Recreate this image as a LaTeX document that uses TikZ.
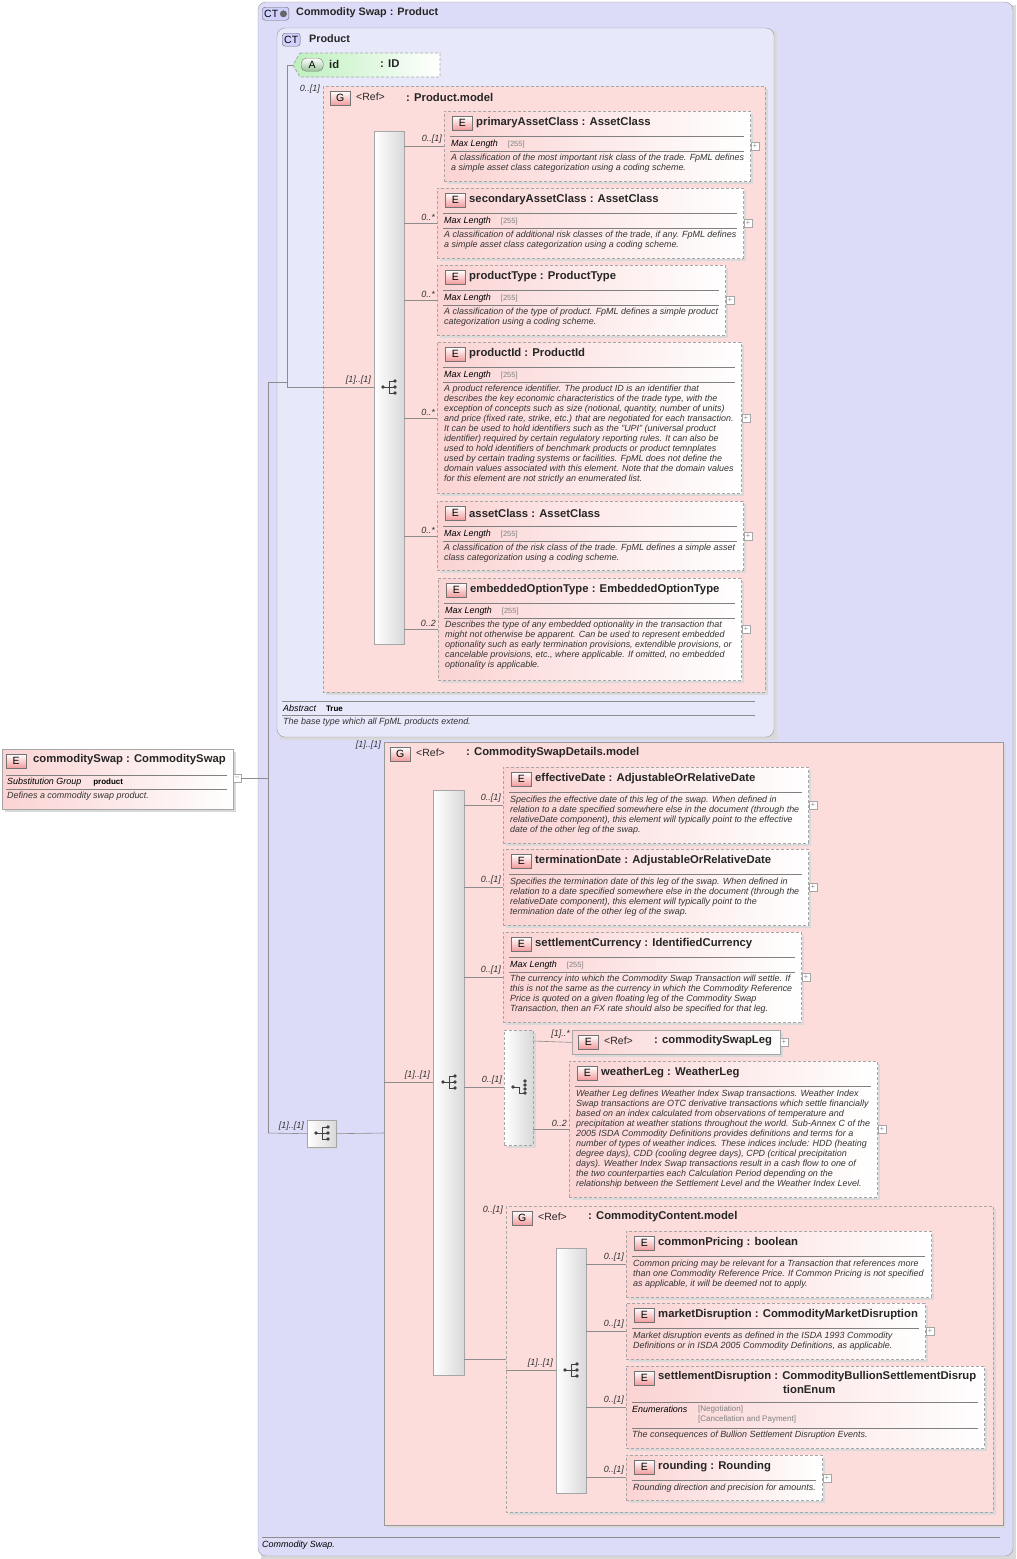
\documentclass[tikz,border=0pt]{standalone}
\usepackage{fontspec}
\setmainfont{Liberation Sans}
\usetikzlibrary{calc}
\definecolor{lav}{HTML}{DCDCF8}
\definecolor{lav2}{HTML}{E8E8FB}
\definecolor{pk}{HTML}{FDDCDC}
\definecolor{elpk}{HTML}{FBD3D3}
\definecolor{bdpk}{HTML}{F29A9A}
\definecolor{grn}{HTML}{BDF0BD}
\tikzset{
 elem/.style={draw=black!35, dash pattern=on 3pt off 2pt, line width=0.8pt, left color=elpk, right color=white, anchor=north west, inner sep=0},
 badge/.style={draw=black!55, solid, line width=0.5pt, top color=white, bottom color=bdpk, minimum width=20pt, minimum height=14pt, inner sep=0, font=\fontsize{10.5}{10}\selectfont, anchor=north west},
 ctbadge/.style={draw=black!60, rounded corners=3pt, fill=lav!80!blue!60, minimum height=13pt, inner sep=2pt, font=\fontsize{10.5}{10}\selectfont, anchor=north west},
 ttl/.style={anchor=west, font=\fontsize{11.3}{12}\selectfont\bfseries, inner sep=0, text=black!85},
 ttls/.style={anchor=west, font=\fontsize{10.8}{12}\selectfont\bfseries, inner sep=0, text=black!85},
 desc/.style={anchor=north west, align=left, font=\fontsize{8.95}{10}\selectfont\itshape, inner sep=0, text=black!80},
 ml/.style={anchor=west, font=\fontsize{8.95}{10}\selectfont\itshape, inner sep=0},
 enm/.style={anchor=west, font=\fontsize{8}{9}\selectfont, inner sep=0, text=black!50},
 card/.style={anchor=south east, font=\fontsize{9}{9}\selectfont\itshape, inner sep=1pt, text=black!80},
 conn/.style={draw=black!45, line width=0.6pt},
 plusb/.style={draw=black!35, fill=white, minimum size=8pt, inner sep=0, font=\fontsize{8}{8}\selectfont, text=black!40},
 seqbar/.style={draw=black!35, left color=white, right color=black!15, anchor=north west, inner sep=0},
 shd/.style={fill=black!15},
}
\newcommand\plusat[2]{\node[plusb] at (#1,#2) {+};}
\newcommand\seqicon[2]{%
 \fill[black!75] (#1-6,#2) circle (1.8pt);
 \draw[black!75, line width=0.8pt] (#1-6,#2) -- (#1,#2) (#1,#2-6) -- (#1,#2+6) (#1,#2-6) -- (#1+5,#2-6) (#1,#2) -- (#1+5,#2) (#1,#2+6) -- (#1+5,#2+6);
 \fill[black!75] (#1+6,#2-6) circle (1.8pt) (#1+6,#2) circle (1.8pt) (#1+6,#2+6) circle (1.8pt);}
\newcommand\choiceicon[2]{%
 \fill[black!75] (#1-6,#2) circle (1.8pt);
 \draw[black!75, line width=0.8pt] (#1-6,#2) -- (#1,#2) (#1,#2) -- (#1,#2+6) (#1,#2+6) -- (#1+5,#2+6);
 \fill[black!75] (#1+6,#2-6) circle (1.8pt) (#1+6,#2-2) circle (1.8pt) (#1+6,#2+2) circle (1.8pt) (#1+6,#2+6) circle (1.8pt);}
% name x y w h title maxlen desc
\newcommand\elm[8]{%
 \fill[shd] (#2+3,#3+3) rectangle ++(#4,#5);
 \node[elem, minimum width=#4pt, minimum height=#5pt] (#1) at (#2,#3) {};
 \node[badge] (#1b) at (#2+8,#3+5) {E};
 \node[ttl] (#1t) at (#2+32,#3+12) {#6};
 \draw[black!50] (#2+6,#3+25) -- ++(#4-12,0);
 \ifnum#7=1
  \node[ml] at (#2+7,#3+33) {Max Length\hspace{10pt}{\upshape\fontsize{7.5}{8}\selectfont\textcolor{black!50}{[255]}}};
  \draw[black!50] (#2+6,#3+40) -- ++(#4-12,0);
  \node[desc] (#1d) at (#2+7,#3+43) {#8};
 \else
  \node[desc] (#1d) at (#2+7,#3+29) {#8};
 \fi}
\begin{document}
\begin{tikzpicture}[x=1pt,y=-1pt]
\useasboundingbox (0,0) rectangle (1017,1559);
% outer CT
\fill[shd] (261,5) rectangle (1016,1559);
\draw[black!40, fill=lav, rounded corners=8pt] (258,2) rectangle (1013,1556);
\node[ctbadge] (ct1) at (262,7) {CT\,\tikz\fill[black!60](0,0)circle(3.5pt);};
\node[ttls] (ct1t) at (296,13) {Commodity Swap  :  Product};
\draw[black!45] (262,1537) -- (1000,1537);
\node[ml] (ct1d) at (262,1545) {Commodity Swap.};
% inner CT Product
\fill[shd] (280,31) rectangle (777,740);
\draw[black!40, fill=lav2, rounded corners=8pt] (277,28) rectangle (774,737);
\node[ctbadge] (ct2) at (282,33) {CT};
\node[ttls] (ct2t) at (309,39) {Product};
\draw[black!45] (282,701) -- (755,701) (282,715) -- (755,715);
\node[ml] (abs) at (283,708) {Abstract\hspace{10pt}{\upshape\bfseries\fontsize{8}{8}\selectfont True}};
\node[desc] (ct2d) at (283,718) {The base type which all FpML products extend.};
% attribute id
\draw[black!35, dash pattern=on 3pt off 2pt, line width=0.8pt, left color=grn, right color=white] (300,53) -- (440,53) -- (440,77) -- (300,77) -- (293,65) -- cycle;
\node[draw=black!55, rounded corners=5pt, top color=white, bottom color=grn!80!black, minimum width=22pt, minimum height=13pt, inner sep=0, font=\fontsize{10.5}{10}\selectfont, anchor=north west] (attb) at (301,58) {A};
\node[ttl] (att) at (329,64) {id};
\node[ttl] (attt) at (380,64) {:  ID};
\coordinate (aL) at (293,65);
% Product.model group
\fill[shd] (326,89) rectangle (768,695);
\draw[black!35, dash pattern=on 3pt off 2pt, line width=0.8pt, fill=pk] (323,86) rectangle (765,692);
\node[badge] (g1b) at (330,91) {G};
\node[ttls, font=\fontsize{10.5}{11}\selectfont] (g1t) at (356,97) {<Ref>};
\node[ttl] (g1tt) at (406,97) {:  Product.model};
\node[card, anchor=south east] at (321,95) {0..[1]};
\node[seqbar, minimum width=30pt, minimum height=513pt] (s1) at (374,131) {};
\seqicon{389}{387}
\elm{pac}{444}{111}{306}{70}{primaryAssetClass  :  AssetClass}{1}{A classification of the most important risk class of the trade. FpML defines\\a simple asset class categorization using a coding scheme.}
\elm{sac}{437}{188}{306}{70}{secondaryAssetClass  :  AssetClass}{1}{A classification of additional risk classes of the trade, if any. FpML defines\\a simple asset class categorization using a coding scheme.}
\elm{pt}{437}{265}{288}{70}{productType  :  ProductType}{1}{A classification of the type of product. FpML defines a simple product\\categorization using a coding scheme.}
\elm{pid}{437}{342}{304}{151}{productId  :  ProductId}{1}{A product reference identifier. The product ID is an identifier that\\describes the key economic characteristics of the trade type, with the\\exception of concepts such as size (notional, quantity, number of units)\\and price (fixed rate, strike, etc.) that are negotiated for each transaction.\\It can be used to hold identifiers such as the "UPI" (universal product\\identifier) required by certain regulatory reporting rules. It can also be\\used to hold identifiers of benchmark products or product temnplates\\used by certain trading systems or facilities. FpML does not define the\\domain values associated with this element. Note that the domain values\\for this element are not strictly an enumerated list.}
\elm{ac}{437}{501}{306}{69}{assetClass  :  AssetClass}{1}{A classification of the risk class of the trade. FpML defines a simple asset\\class categorization using a coding scheme.}
\elm{eot}{438}{578}{303}{102}{embeddedOptionType  :  EmbeddedOptionType}{1}{Describes the type of any embedded optionality in the transaction that\\might not otherwise be apparent. Can be used to represent embedded\\optionality such as early termination provisions, extendible provisions, or\\cancelable provisions, etc., where applicable. If omitted, no embedded\\optionality is applicable.}
\plusat{755}{146}\plusat{748}{223}\plusat{730}{300}\plusat{746}{418}\plusat{748}{536}\plusat{746}{629}
\foreach \yy/\xx/\lab in {146/444/0..[1],223/437/0..*,300/437/0..*,418/437/0..*,536/437/0..*,629/438/0..2}{
 \draw[conn] (404,\yy) -- (\xx,\yy);
 \node[card] at (\xx-1,\yy-1) {\lab};}
% left chain in Product
\draw[conn] (aL) -- (287,65) -- (287,387) -- (s1.west |- 0,387);
\node[card] at (372,386) {[1]..[1]};
% commoditySwap element
\fill[shd] (5,752) rectangle (236,812);
\node[draw=black!35, line width=0.8pt, left color=elpk, right color=white, minimum width=231pt, minimum height=60pt, anchor=north west, inner sep=0] (cs) at (2,749) {};
\node[badge] (csb) at (6,754) {E};
\node[ttl] (cst) at (33,760) {commoditySwap  :  CommoditySwap};
\draw[black!50] (6,775) -- (227,775) (6,789) -- (227,789);
\node[ml] at (7,782) {Substitution Group\hspace{12pt}{\upshape\bfseries\fontsize{8}{8}\selectfont product}};
\node[desc] at (7,792) {Defines a commodity swap product.};
\node[plusb] (csm) at (237,778) {--};
\draw[conn] (csm.east) -- (268,778);
\draw[conn] (268,382) -- (287,382);
\draw[conn] (268,382) -- (268,1133);
% sequence box
\fill[shd] (309,1122) rectangle (338,1149);
\node[seqbar, minimum width=29pt, minimum height=27pt] (sq0) at (307,1120) {};
\seqicon{322}{1133}
\draw[conn] (268,1133) -- (sq0.west);
\node[card] at (305,1132) {[1]..[1]};
% CommoditySwapDetails group
\fill[shd] (387,745) rectangle (1006,1528);
\draw[black!40, line width=0.8pt, fill=pk] (384,742) rectangle (1003,1525);
\draw[conn] (sq0.east) -- (384,1133);
\node[card] at (382,751) {[1]..[1]};
\node[badge] (g2b) at (390,747) {G};
\node[ttls, font=\fontsize{10.5}{11}\selectfont] (g2t) at (416,753) {<Ref>};
\node[ttl] (g2tt) at (466,753) {:  CommoditySwapDetails.model};
\node[seqbar, minimum width=31pt, minimum height=585pt] (s2) at (433,790) {};
\seqicon{449}{1082}
\draw[conn] (384,1082) -- (433,1082);
\node[card] at (431,1081) {[1]..[1]};
\elm{ed}{503}{767}{305}{76}{effectiveDate  :  AdjustableOrRelativeDate}{0}{Specifies the effective date of this leg of the swap. When defined in\\relation to a date specified somewhere else in the document (through the\\relativeDate component), this element will typically point to the effective\\date of the other leg of the swap.}
\elm{td}{503}{849}{305}{76}{terminationDate  :  AdjustableOrRelativeDate}{0}{Specifies the termination date of this leg of the swap. When defined in\\relation to a date specified somewhere else in the document (through the\\relativeDate component), this element will typically point to the\\termination date of the other leg of the swap.}
\elm{sc}{503}{932}{298}{90}{settlementCurrency  :  IdentifiedCurrency}{1}{The currency into which the Commodity Swap Transaction will settle. If\\this is not the same as the currency in which the Commodity Reference\\Price is quoted on a given floating leg of the Commodity Swap\\Transaction, then an FX rate should also be specified for that leg.}
\plusat{813}{805}\plusat{813}{887}\plusat{806}{977}
\foreach \yy/\xx in {805/503,887/503,977/503}{
 \draw[conn] (464,\yy) -- (\xx,\yy);
 \node[card] at (\xx-1,\yy-1) {0..[1]};}
% choice
\fill[shd] (507,1033) rectangle (536,1148);
\node[seqbar, dash pattern=on 3pt off 2pt, minimum width=29pt, minimum height=115pt] (ch) at (504,1030) {};
\choiceicon{519}{1087}
\draw[conn] (464,1087) -- (ch.west |- 0,1087);
\node[card] at (503,1086) {0..[1]};
\fill[shd] (575,1033) rectangle (783,1057);
\node[draw=black!35, line width=0.8pt, left color=elpk, right color=white, minimum width=208pt, minimum height=24pt, anchor=north west, inner sep=0] (csl) at (572,1030) {};
\node[badge] (cslb) at (578,1035) {E};
\node[ttls, font=\fontsize{10.5}{11}\selectfont] at (604,1041) {<Ref>};
\node[ttl] at (654,1041) {:  commoditySwapLeg};
\plusat{784}{1042}
\draw[conn] (533,1041) -- (csl.west);
\node[card] at (571,1040) {[1]..*};
\elm{wl}{569}{1061}{308}{136}{weatherLeg  :  WeatherLeg}{0}{Weather Leg defines Weather Index Swap transactions. Weather Index\\Swap transactions are OTC derivative transactions which settle financially\\based on an index calculated from observations of temperature and\\precipitation at weather stations throughout the world. Sub-Annex C of the\\2005 ISDA Commodity Definitions provides definitions and terms for a\\number of types of weather indices. These indices include: HDD (heating\\degree days), CDD (cooling degree days), CPD (critical precipitation\\days). Weather Index Swap transactions result in a cash flow to one of\\the two counterparties each Calculation Period depending on the\\relationship between the Settlement Level and the Weather Index Level.}
\plusat{882}{1129}
\draw[conn] (533,1129) -- (569,1129);
\node[card] at (568,1128) {0..2};
% CommodityContent.model
\fill[shd] (509,1209) rectangle (996,1515);
\draw[black!35, dash pattern=on 3pt off 2pt, line width=0.8pt, fill=pk] (506,1206) rectangle (993,1512);
\draw[conn] (464,1359) -- (506,1359);
\node[card] at (504,1216) {0..[1]};
\node[badge] (g3b) at (512,1211) {G};
\node[ttls, font=\fontsize{10.5}{11}\selectfont] (g3t) at (538,1217) {<Ref>};
\node[ttl] (g3tt) at (588,1217) {:  CommodityContent.model};
\node[seqbar, minimum width=30pt, minimum height=245pt] (s3) at (556,1248) {};
\seqicon{571}{1370}
\draw[conn] (506,1370) -- (556,1370);
\node[card] at (554,1369) {[1]..[1]};
\elm{cp}{626}{1231}{305}{66}{commonPricing  :  boolean}{0}{Common pricing may be relevant for a Transaction that references more\\than one Commodity Reference Price. If Common Pricing is not specified\\as applicable, it will be deemed not to apply.}
\elm{md}{626}{1303}{299}{56}{marketDisruption  :  CommodityMarketDisruption}{0}{Market disruption events as defined in the ISDA 1993 Commodity\\Definitions or in ISDA 2005 Commodity Definitions, as applicable.}
\plusat{930}{1331}
% settlementDisruption
\fill[shd] (629,1369) rectangle (987,1451);
\node[elem, minimum width=358pt, minimum height=82pt] (sd) at (626,1366) {};
\node[badge] (sdb) at (634,1371) {E};
\node[ttl] at (658,1377) {settlementDisruption  :  CommodityBullionSettlementDisrup};
\node[ttl] at (783,1389) {tionEnum};
\draw[black!50] (632,1402) -- (978,1402) (632,1428) -- (978,1428);
\node[ml] at (632,1409) {Enumerations};
\node[enm] at (698,1409) {[Negotiation]};
\node[enm] at (698,1419) {[Cancellation and Payment]};
\node[desc] at (632,1431) {The consequences of Bullion Settlement Disruption Events.};
\elm{rd}{626}{1455}{196}{45}{rounding  :  Rounding}{0}{Rounding direction and precision for amounts.}
\plusat{827}{1478}
\foreach \yy in {1264,1331,1407,1477}{
 \draw[conn] (586,\yy) -- (626,\yy);
 \node[card] at (625,\yy-1) {0..[1]};}
\end{tikzpicture}
\end{document}
